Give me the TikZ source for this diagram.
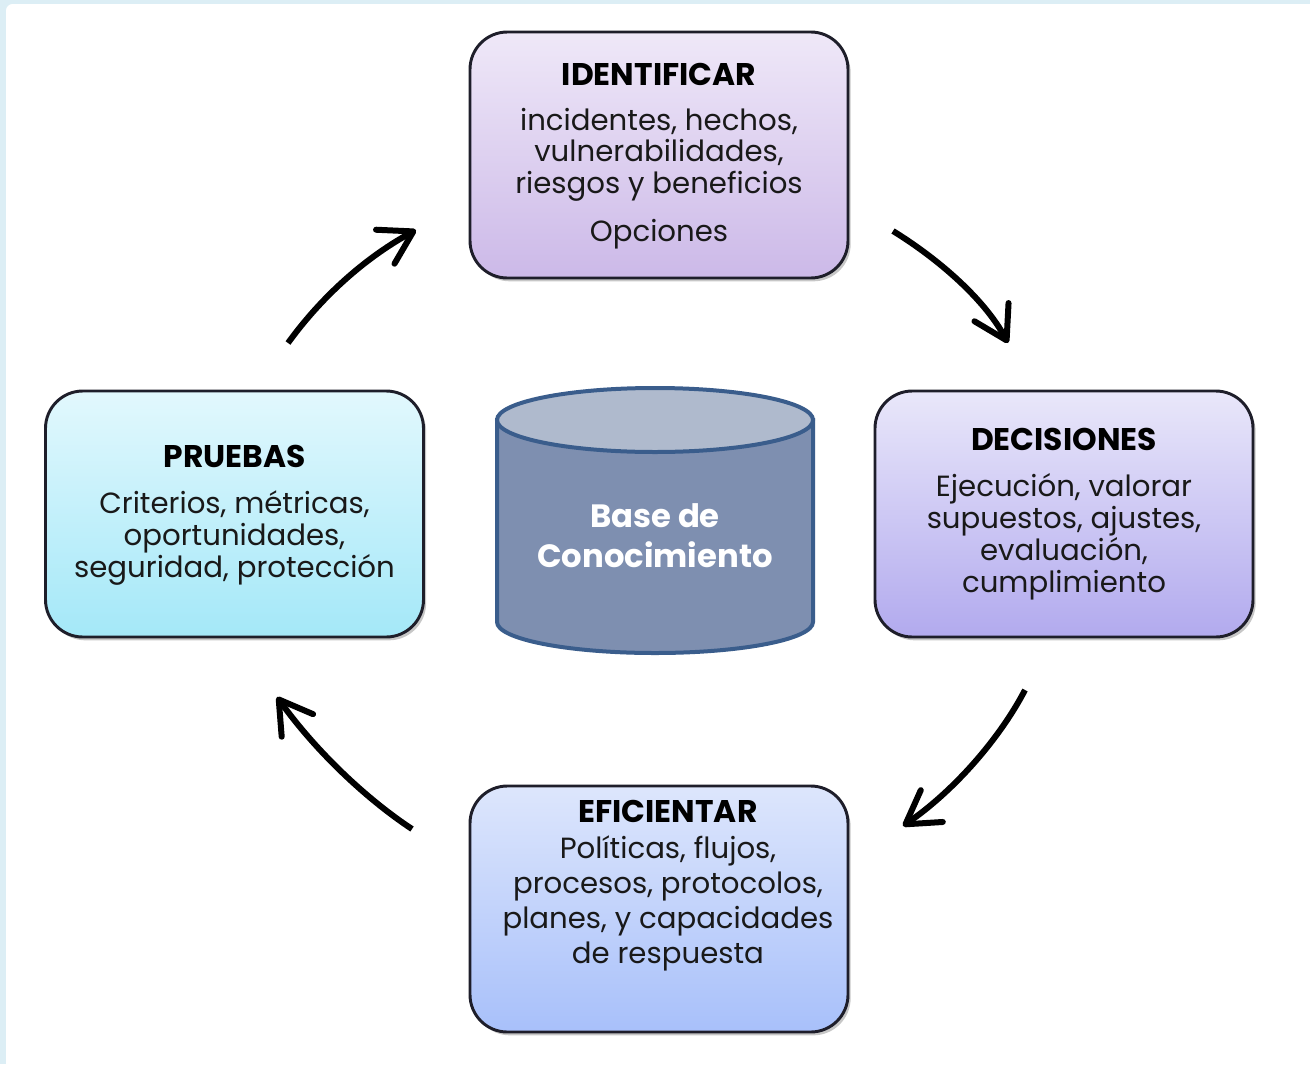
\documentclass[tikz,border=0pt]{standalone}
\usepackage{fontspec}
\setmainfont{Poppins}
\usetikzlibrary{arrows.meta,shadows}
\definecolor{bgblue}{HTML}{DCEEF5}
\definecolor{boxline}{HTML}{1E1E2A}
\definecolor{idtop}{HTML}{EFE8F8}
\definecolor{idbot}{HTML}{CCB9E8}
\definecolor{dectop}{HTML}{E9E7FA}
\definecolor{decbot}{HTML}{B2AAEE}
\definecolor{prutop}{HTML}{E2F8FD}
\definecolor{prubot}{HTML}{A4E8F8}
\definecolor{efitop}{HTML}{DDE6FC}
\definecolor{efibot}{HTML}{A8C0FA}
\definecolor{cylbody}{HTML}{7E8FB0}
\definecolor{cyltop}{HTML}{AFBACD}
\definecolor{cylline}{HTML}{3A5D8C}
\begin{document}
\begin{tikzpicture}[x=0.75pt,y=0.75pt,
  box/.style={draw=boxline, line width=2.2pt, rounded corners=28pt,
    minimum width=283.5pt, minimum height=184.5pt, inner sep=0pt,
    drop shadow={shadow xshift=2pt, shadow yshift=-2.5pt, opacity=0.22, fill=black}},
  ttl/.style={font=\fontsize{23.5}{26}\selectfont\bfseries, text=black, inner sep=0pt, anchor=base},
  txt/.style={font=\fontsize{21.9}{24}\selectfont, text=black!90, inner sep=0pt, anchor=base, align=center},
  cyc/.style={line width=4.5pt, -{Straight Barb[length=24pt,width=29pt,round]}}
]
\useasboundingbox (0,0) rectangle (1310,-1064);
\fill[bgblue] (0,0) rectangle (1310,-1064);
\fill[white, rounded corners=5pt] (6,-4) rectangle (1330,-1090);

% boxes
\node[box, top color=idtop, bottom color=idbot] (ident) at (659,-155) {};
\node[box, top color=dectop, bottom color=decbot] (deci) at (1064,-514) {};
\node[box, top color=prutop, bottom color=prubot] (prue) at (234.5,-514) {};
\node[box, top color=efitop, bottom color=efibot] (efic) at (659,-909) {};

% texts (multi-line nodes are anchored at the baseline of their last line)
\node[ttl] (identT) at (659,-85) {IDENTIFICAR};
\node[txt, font=\fontsize{21.9}{23.6}\selectfont] (identB) at (659,-193) {incidentes, hechos,\\vulnerabilidades,\\riesgos y beneficios};
\node[txt] (identO) at (659,-241) {Opciones};

\node[ttl] (deciT) at (1064,-450) {DECISIONES};
\node[txt] (deciB) at (1064,-592) {Ejecución, valorar\\supuestos, ajustes,\\evaluación,\\cumplimiento};

\node[ttl] (prueT) at (234.5,-467) {PRUEBAS};
\node[txt] (prueB) at (234.5,-577) {Criterios, métricas,\\oportunidades,\\seguridad, protección};

\node[ttl] (eficT) at (668,-822) {EFICIENTAR};
\node[txt, font=\fontsize{21.9}{26.25}\selectfont] (eficB) at (668,-963) {Políticas, flujos,\\procesos, protocolos,\\planes, y capacidades\\de respuesta};

% cylinder
\filldraw[fill=cylbody, draw=cylline, line width=3pt]
  (497,-420) -- (497,-622) arc[start angle=180, end angle=360, x radius=158, y radius=31]
  -- (813,-420) -- cycle;
\filldraw[fill=cyltop, draw=cylline, line width=3pt] (655,-420) ellipse[x radius=158, y radius=32];
\node[font=\fontsize{24.2}{29.5}\selectfont\bfseries, text=white, align=center, inner sep=0pt, anchor=base] (kb) at (655,-567) {Base de\\Conocimiento};

% arrows
\coordinate (a1s) at (288,-343); \coordinate (a1e) at (416,-230);
\coordinate (a2s) at (893,-231); \coordinate (a2e) at (1008,-343);
\coordinate (a3s) at (1025,-690); \coordinate (a3e) at (903,-826);
\coordinate (a4s) at (412,-829); \coordinate (a4e) at (277,-697);
\draw[cyc] (a1s) .. controls (325,-292) and (370,-255) .. (a1e);
\draw[cyc] (a2s) .. controls (940,-260) and (985,-300) .. (a2e);
\draw[cyc] (a3s) .. controls (1000,-738) and (955,-790) .. (a3e);
\draw[cyc] (a4s) .. controls (365,-798) and (315,-750) .. (a4e);
\end{tikzpicture}
\end{document}
